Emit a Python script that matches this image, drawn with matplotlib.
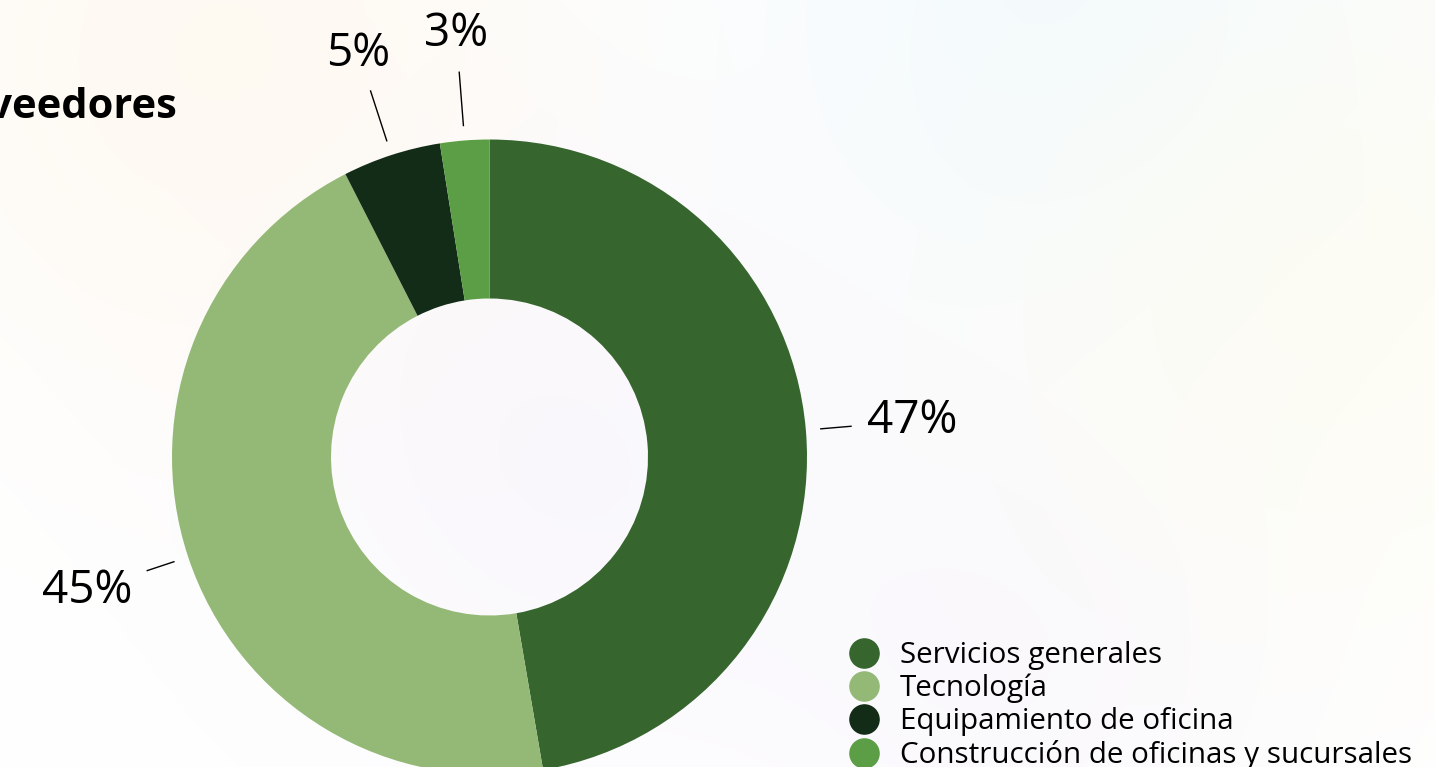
import numpy as np
import matplotlib
matplotlib.use("Agg")
import matplotlib.pyplot as plt
from matplotlib.lines import Line2D

categories = ["Servicios generales", "Tecnología", "Equipamiento de oficina",
              "Construcción de oficinas y sucursales"]
values = [47.3, 45.2, 5.0, 2.5]
labels = ["47%", "45%", "5%", "3%"]
colors = ["#36652E", "#94B976", "#132C17", "#5C9E45"]
title_text = "Proveedores"

W, H = 1435, 767
fig = plt.figure(figsize=(W / 100, H / 100), dpi=100)
plt.rcParams['font.family'] = ['Open Sans', 'DejaVu Sans']

# soft background
bg = fig.add_axes([0, 0, 1, 1], zorder=0)
bg.axis("off")
yy, xx = np.mgrid[0:H, 0:W]
img = np.ones((H, W, 3))
blobs = [((230, 60), 240, (255, 244, 228), 0.5),
         ((1080, 10), 240, (236, 247, 253), 0.6),
         ((560, 470), 220, (244, 240, 250), 0.45),
         ((1010, 660), 200, (244, 240, 250), 0.4),
         ((1330, 300), 230, (253, 251, 238), 0.6)]
for (cx, cy), s, col, a in blobs:
    g = a * np.exp(-((xx - cx) ** 2 + (yy - cy) ** 2) / (2 * s ** 2))
    for k in range(3):
        img[..., k] = img[..., k] * (1 - g) + (col[k] / 255) * g
bg.imshow(img, extent=[0, W, H, 0], aspect="auto")
bg.set_xlim(0, W)
bg.set_ylim(H, 0)

ax = fig.add_axes([0, 0, 1, 1], zorder=1)
ax.patch.set_alpha(0)

cx, cy = 489.5, H - 457
R = 317.5
ax.pie(values, colors=colors, startangle=90, counterclock=False,
       center=(cx, cy), radius=R, wedgeprops=dict(width=159, linewidth=0),
       frame=True)
ax.set_xlim(0, W)
ax.set_ylim(0, H)
ax.set_aspect("equal")
ax.axis("off")

# labels with leader lines
total = sum(values)
cum = 0
for v, lab in zip(values, labels):
    mid = (cum + v / 2) / total * 2 * np.pi
    cum += v
    dx, dy = np.sin(mid), np.cos(mid)
    rt = 424
    hw, hh, pad = 45, 22, 16
    off = min(hw / max(abs(dx), 1e-6), hh / max(abs(dy), 1e-6)) + pad
    r0, r1 = R + 15, rt - off
    ax.plot([cx + r0 * dx, cx + r1 * dx], [cy + r0 * dy, cy + r1 * dy],
            color="black", lw=1)
    ax.text(cx + rt * dx, cy + rt * dy, lab, ha="center", va="center",
            fontsize=33, color="black")

fig.text(178 / W, 1 - 107 / H, title_text.lower(), ha="right", va="center",
         fontsize=30, fontweight="bold", color="black")

handles = [Line2D([], [], marker="o", linestyle="none", markersize=21,
                  markerfacecolor=c, markeredgecolor=c) for c in colors]
leg = fig.legend(handles, categories, loc="upper left",
                 bbox_to_anchor=(849 / W, 1 - 641 / H), frameon=False,
                 fontsize=21.3, handlelength=1.0, handletextpad=0.72,
                 labelspacing=0.13, borderpad=0, borderaxespad=0)

fig.savefig("out.png", dpi=100)
